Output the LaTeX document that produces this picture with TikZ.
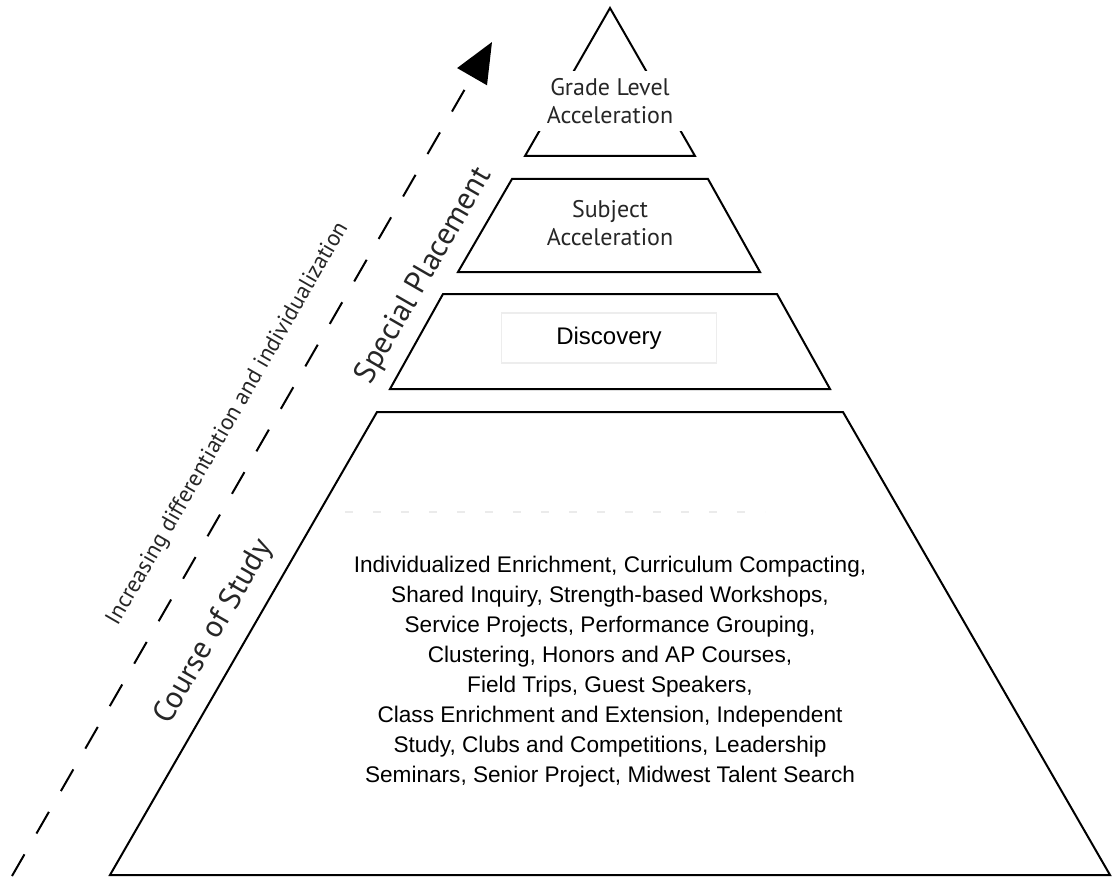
\documentclass[tikz,border=0pt]{standalone}
\usepackage{fontspec}
\setmainfont{Liberation Sans}
\newfontfamily\myriad{PT Sans}
\usetikzlibrary{arrows.meta,
							calc,
							positioning,
							shapes.geometric}

\begin{document}
\begin{tikzpicture}[
	x=0.5pt, y=-0.5pt,
	node distance = 4mm and 8mm,
		level/.style = {draw, line width=1pt, line join=miter},
	 toptext/.style = {font=\myriad\fontsize{12}{14}\selectfont, text=black!85,
									 align=center},
	bodytext/.style = {font=\fontsize{11.3}{15}\selectfont, align=center},
	sidetext/.style = {font=\myriad\fontsize{15.5}{18}\selectfont, text=black!85,
									 rotate=60},
	 inctext/.style = {font=\myriad\fontsize{11.5}{13}\selectfont, text=black!85,
									 rotate=60},
	progress/.style = {line width=1pt, dash pattern=on 12.5pt off 12pt,
									 -{Triangle[length=20pt,width=17pt]}},
	   ghost/.style = {black!8, line width=0.6pt, dash pattern=on 4pt off 10pt}]

\useasboundingbox (0,0) rectangle (1117,877);

% pyramid levels, top to bottom
\draw[level] (610,8) -- (695,156) -- (525,156) -- cycle;            % <-- grade level
\draw[level] (512,179) -- (708,179) -- (760,272) -- (458,272) -- cycle; % <-- subject
\draw[level] (443,294) -- (777,294) -- (830,389) -- (390,389) -- cycle; % <-- discovery
\draw[level] (377,412) -- (843,412) -- (1110,875) -- (110,875) -- cycle; % <-- course of study

%
\node (gla) [toptext, fill=white, inner sep=0pt,
		 minimum width=75pt, minimum height=30pt] at (610,101)
		 {Grade Level\\Acceleration};
\node (sa) [toptext] at (610,223) {Subject\\Acceleration};
\node (disc) [draw=black!7, line width=0.6pt, minimum width=107.5pt,
		 minimum height=25pt, font=\fontsize{12}{14}\selectfont] at (609,338)
		 {Discovery};
\draw[ghost] (345,512) -- (765,512);
\node (cos) [bodytext] at (610,672)
		 {Individualized Enrichment, Curriculum Compacting,\\
			Shared Inquiry, Strength-based Workshops,\\
			Service Projects, Performance Grouping,\\
			Clustering, Honors and AP Courses,\\
			Field Trips, Guest Speakers,\\
			Class Enrichment and Extension, Independent\\
			Study, Clubs and Competitions, Leadership\\
			Seminars, Senior Project, Midwest Talent Search};

%% side labels
\node (sp)  [sidetext] at (424,276) {Special Placement};
\node (cs)  [sidetext] at (214,632) {Course of Study};
\node (inc) [inctext]  at (228,424) {Increasing differentiation and individualization};

\coordinate (tail) at (12,876);
\coordinate (head) at (492,42);
\draw[progress] (tail) -- (head);
\end{tikzpicture}
\end{document}
